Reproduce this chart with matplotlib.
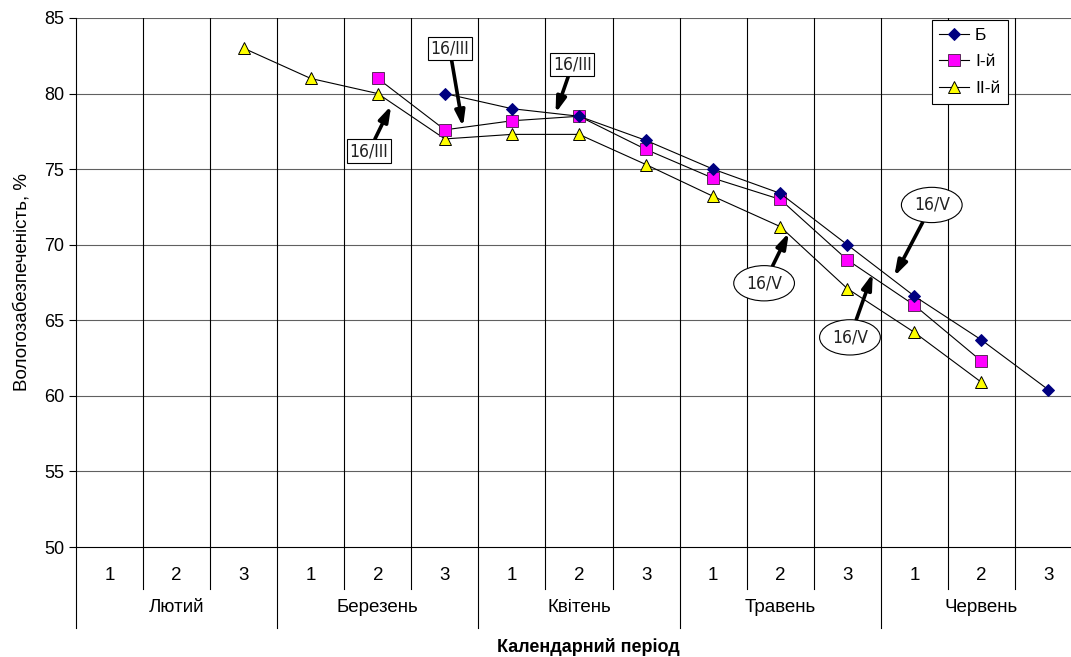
import numpy as np
import matplotlib
matplotlib.use("Agg")
import matplotlib.pyplot as plt
import matplotlib.transforms as mtransforms

plt.rcParams['font.family'] = ['Liberation Sans', 'DejaVu Sans']

nan = np.nan
months = ["Лютий", "Березень", "Квітень", "Травень", "Червень"]
decades = ["1", "2", "3"] * 5
series_names = ["Б", "І-й", "ІІ-й"]
b_vals = [nan, nan, nan, nan, nan, 80.0, 79.0, 78.5, 76.9, 75.0, 73.4, 70.0, 66.6, 63.7, 60.4]
first_vals = [nan, nan, nan, nan, 81.0, 77.6, 78.2, 78.5, 76.3, 74.4, 73.0, 69.0, 66.0, 62.3, nan]
second_vals = [nan, nan, 83.0, 81.0, 80.0, 77.0, 77.3, 77.3, 75.3, 73.2, 71.2, 67.1, 64.2, 60.9, nan]

# (text, label position, arrow head) in data coords
box_notes = [("16/III", (3.87, 76.2), (4.20, 79.2)),
             ("16/III", (5.07, 83.0), (5.27, 77.8)),
             ("16/III", (6.90, 81.9), (6.65, 78.7))]
oval_notes = [("16/V", (9.76, 67.45), (10.13, 70.8)),
              ("16/V", (11.04, 63.87), (11.38, 68.1)),
              ("16/V", (12.26, 72.63), (11.70, 67.9))]

W, H = 1071, 657
fig = plt.figure(figsize=(W / 100, H / 100), dpi=100)
# plot area runs past the right edge of the image
ax = fig.add_axes([76 / W, 1 - 547 / H, (1082 - 76) / W, (547 - 18) / H])

x = np.arange(len(decades))
ax.set_xlim(-0.5, len(decades) - 0.5)
ax.set_ylim(50, 85)

for v in range(55, 86, 5):
    ax.axhline(v, color="#606060", lw=0.8, zorder=1)
for k in range(1, len(decades)):
    ax.axvline(k - 0.5, color="black", lw=0.8, zorder=1)

ax.plot(x, second_vals, color="black", lw=0.8, marker="^", ms=8.3,
        mfc="#ffff00", mec="black", mew=0.7, label=series_names[2], zorder=3)
ax.plot(x, first_vals, color="black", lw=0.8, marker="s", ms=8.0,
        mfc="#ff00ff", mec="#5a2a5a", mew=0.7, label=series_names[1], zorder=4)
ax.plot(x, b_vals, color="black", lw=0.8, marker="D", ms=6.0,
        mfc="#000080", mec="#000080", mew=0.7, label=series_names[0], zorder=5)

for side in ["top", "right"]:
    ax.spines[side].set_visible(False)
ax.spines["left"].set_linewidth(0.8)
ax.spines["bottom"].set_linewidth(0.8)
ax.set_yticks(range(50, 86, 5))
ax.tick_params(axis="y", length=5, width=0.8, labelsize=13, direction="out")
ax.set_xticks([])

# two-level category axis below the plot
trans = mtransforms.blended_transform_factory(ax.transData, ax.transAxes)
day_bottom = -(589 - 547) / 529
month_bottom = -(628 - 547) / 529
for k in range(len(decades) + 1):
    low = month_bottom if k % 3 == 0 else day_bottom
    ax.plot([k - 0.5, k - 0.5], [0, low], color="black", lw=0.8,
            transform=trans, clip_on=False)
for i, d in enumerate(decades):
    ax.text(i, -(575 - 547) / 529, d, transform=trans, ha="center",
            va="center", fontsize=13.5)
for j, m in enumerate(months):
    ax.text(3 * j + 1, -(607 - 547) / 529, m, transform=trans, ha="center",
            va="center", fontsize=13.5)

fig.text(588 / W, 1 - 647 / H, "Календарний період", ha="center",
         va="center", fontsize=13, fontweight="bold")
fig.text(22 / W, 1 - 282 / H, "Вологозабезпеченість, %", ha="center",
         va="center", rotation=90, fontsize=13.5)

note_font = ['Liberation Sans Narrow', 'DejaVu Sans']
arrow = dict(arrowstyle="-|>,head_length=0.7,head_width=0.22", color="black",
             lw=2.6, mutation_scale=13, shrinkA=0, shrinkB=0)
for txt, pos, head in box_notes:
    ax.annotate(txt, xy=head, xytext=pos, ha="center", va="center",
                fontsize=12.5, family=note_font, stretch="condensed",
                color="#222222",
                bbox=dict(boxstyle="square,pad=0.15", fc="white", ec="black", lw=0.8),
                arrowprops=arrow, zorder=6)
for txt, pos, head in oval_notes:
    ax.annotate(txt, xy=head, xytext=pos, ha="center", va="center",
                fontsize=12.5, family=note_font, stretch="condensed",
                color="#222222",
                bbox=dict(boxstyle="ellipse,pad=0.2", fc="white", ec="black", lw=0.8),
                arrowprops=arrow, zorder=6)

handles, labels = ax.get_legend_handles_labels()
order = [2, 1, 0]
leg = ax.legend([handles[i] for i in order], [labels[i] for i in order],
                loc="upper right", bbox_to_anchor=(1008 / W, 1 - 20 / H),
                bbox_transform=fig.transFigure, borderaxespad=0,
                fontsize=12.5, handlelength=1.7, handletextpad=0.35,
                labelspacing=0.65, borderpad=0.45, fancybox=False,
                edgecolor="black", framealpha=1)
leg.get_frame().set_linewidth(0.8)

fig.savefig("out.png", dpi=100)
